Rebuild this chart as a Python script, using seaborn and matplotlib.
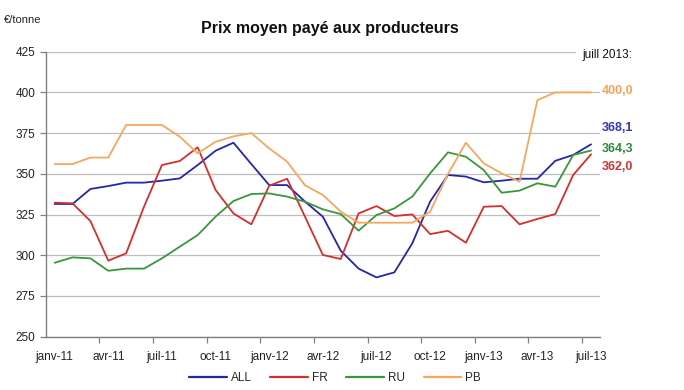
import matplotlib
matplotlib.use("Agg")
import matplotlib.pyplot as plt
import seaborn as sns
import pandas as pd
import numpy as np
from matplotlib.lines import Line2D

months = list(range(31))
tick_pos = [0, 3, 6, 9, 12, 15, 18, 21, 24, 27, 30]
tick_labels = ["janv-11", "avr-11", "juil-11", "oct-11", "janv-12", "avr-12",
               "juil-12", "oct-12", "janv-13", "avr-13", "juil-13"]

ALL = [331.5, 331.5, 340.7, 342.5, 344.6, 344.6, 345.8, 347.2, 355.4, 364.2, 369.1,
       356.0, 343.1, 343.1, 333.0, 323.7, 302.8, 291.8, 286.4, 289.5, 307.3,
       333.0, 349.3, 348.3, 344.8, 345.8, 347.0, 347.0, 358.0, 361.6, 368.1]
FR = [332.3, 331.9, 321.0, 296.7, 301.2, 329.9, 355.4, 357.9, 366.3, 340.1, 325.7,
      319.0, 342.7, 347.0, 323.7, 300.2, 297.7, 325.7, 330.2, 324.1, 325.1,
      313.0, 315.0, 307.7, 329.8, 330.2, 319.0, 322.3, 325.3, 349.3, 362.0]
RU = [295.4, 298.7, 298.1, 290.5, 291.8, 291.8, 298.1, 305.3, 312.4, 323.7, 333.3,
      337.6, 338.0, 336.0, 332.9, 328.2, 325.3, 315.1, 324.7, 328.8, 336.0,
      350.3, 363.2, 360.5, 352.3, 338.4, 339.7, 344.2, 342.1, 361.6, 364.3]
PB = [356.0, 356.0, 360.0, 360.0, 380.0, 380.0, 380.0, 372.8, 362.6, 369.7, 373.0,
      375.0, 365.6, 357.5, 343.0, 337.0, 326.8, 320.0, 320.0, 320.0, 320.0,
      326.8, 350.0, 369.1, 356.4, 350.3, 345.2, 395.3, 400.0, 400.0, 400.0]

series_names = ["ALL", "FR", "RU", "PB"]
colors = ["#2626A8", "#D42F2F", "#3A963A", "#F4A85E"]
label_colors = ["#3535B8", "#D03535", "#2E8B3A", "#F2A55A"]
end_labels = ["368,1", "362,0", "364,3", "400,0"]
end_label_y = [378.1, 354.2, 365.2, 400.9]

df = pd.DataFrame({
    "month": months * 4,
    "value": ALL + FR + RU + PB,
    "series": sum([[n] * 31 for n in series_names], []),
})

sns.set_theme(style="white")
plt.rcParams["font.family"] = ["Liberation Sans", "DejaVu Sans"]

fig = plt.figure(figsize=(6.84, 3.90), dpi=100)
ax = fig.add_axes([45.7 / 684, 1 - 336.7 / 390, (600 - 45.7) / 684, (336.7 - 51.7) / 390])

sns.lineplot(data=df, x="month", y="value", hue="series", hue_order=series_names,
             palette=colors, linewidth=1.3, ax=ax, legend=False)

ax.set_xlim(-0.5, 30.5)
ax.set_ylim(250, 425)
ax.set_yticks([250, 275, 300, 325, 350, 375, 400, 425])
ax.yaxis.grid(True, color="#BEBEBE", linewidth=0.9)
ax.set_axisbelow(True)
ax.set_xticks(tick_pos)
ax.set_xticklabels(tick_labels)
ax.set_xticks(np.arange(2.5, 30, 3), minor=True)
ax.tick_params(axis="x", which="major", length=0, labelsize=8.5, colors="#222222", pad=10)
ax.tick_params(axis="x", which="minor", length=4, width=0.9, color="#808080", direction="out")
ax.tick_params(axis="y", which="major", length=4, width=0.9, color="#808080",
               labelsize=8.5, labelcolor="#222222", left=True, direction="out")
ax.xaxis.set_tick_params(which="minor", bottom=True)
for s in ["top", "right"]:
    ax.spines[s].set_visible(False)
for s in ["left", "bottom"]:
    ax.spines[s].set_color("#808080")
    ax.spines[s].set_linewidth(1.0)
ax.set_xlabel("")
ax.set_ylabel("")

fig.text(330 / 684, 1 - 28 / 390, "Prix moyen payé aux producteurs", ha="center", va="center",
         fontsize=11.5, fontweight="bold", color="#111111")
fig.text(4 / 684, 1 - 20 / 390, "€/tonne", ha="left", va="center", fontsize=8, color="#222222")
fig.text(582 / 684, 1 - 55 / 390, "juill 2013:", ha="left", va="center", fontsize=8.5,
         color="#111111", bbox=dict(facecolor="white", edgecolor="none", pad=4), zorder=5)

for lab, yv, c in zip(end_labels, end_label_y, label_colors):
    ax.text(30.6, yv, lab, ha="left", va="center", fontsize=9, color=c,
            fontweight="bold", clip_on=False)

handles = [Line2D([0], [0], color=c, linewidth=1.6) for c in colors]
fig.legend(handles, series_names, loc="center", bbox_to_anchor=(335 / 684, 1 - 378 / 390),
           ncol=4, frameon=False, fontsize=8.5, handlelength=3.2, columnspacing=1.6,
           handletextpad=0.3)

fig.savefig("out.png", dpi=100)
